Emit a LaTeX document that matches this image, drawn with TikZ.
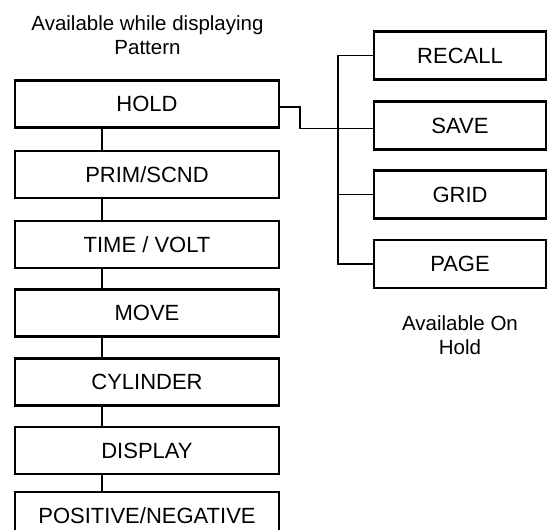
\documentclass[tikz,border=0pt]{standalone}
\usepackage{fontspec}
\setmainfont{Liberation Sans}
\begin{document}
\begin{tikzpicture}[x=1pt, y=-1pt, line width=1.7pt,
  menubox/.style={draw, line width=2.2pt, minimum width=264pt, minimum height=47pt, inner sep=0pt, font=\fontsize{22}{24}\selectfont},
  holdbox/.style={menubox, minimum width=172pt, minimum height=48pt},
  note/.style={align=center, inner sep=0pt, font=\fontsize{20.5}{23.5}\selectfont}]
  % 1. page frame (bottom box runs off the edge)
  \useasboundingbox (0,0) rectangle (552,530);
  \clip (0,0) rectangle (552,530);

  % 2. pattern menu, left column
  \node[note] (topnote) at (147.5,35) {Available while displaying\\Pattern};
  \node[menubox] (hold) at (147,104) {HOLD};
  \node[menubox] (prim) at (147,174.5) {PRIM/SCND};
  \node[menubox] (timevolt) at (147,244.5) {TIME / VOLT};
  \node[menubox] (move) at (147,313) {MOVE};
  \node[menubox] (cylinder) at (147,382) {CYLINDER};
  \node[menubox] (display) at (147,450.5) {DISPLAY};
  \node[menubox] (posneg) at (147,515.5) {POSITIVE/NEGATIVE};

  % 3. hold menu, right column
  \node[holdbox] (recall) at (460,55.5) {RECALL};
  \node[holdbox] (save) at (460,125.5) {SAVE};
  \node[holdbox] (grid) at (460,194.5) {GRID};
  \node[holdbox] (page) at (460,264) {PAGE};
  \node[note] (holdnote) at (460,335) {Available On\\Hold};

  % 4. connectors
  \coordinate (spine) at (102,0);
  \coordinate (bus) at (338,0);
  \foreach \a/\b in {hold/prim, prim/timevolt, timevolt/move, move/cylinder, cylinder/display, display/posneg}
    \draw (\a.south -| spine) -- (\b.north -| spine);
  \draw (recall.west) -- (recall.west -| bus) -- (page.west -| bus) -- (page.west);
  \draw (grid.west -| bus) -- (grid.west);
  \draw ([yshift=-3pt]hold.east) -- ++(20,0) |- ([yshift=-3pt]save.west);
\end{tikzpicture}
\end{document}
